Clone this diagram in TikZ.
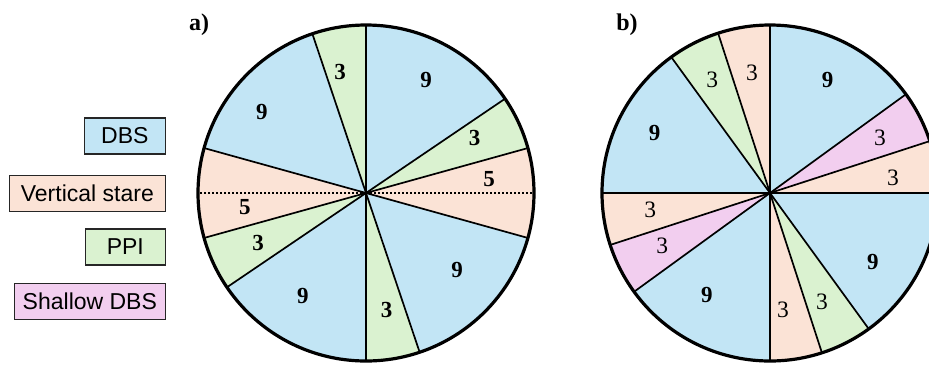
\documentclass[tikz,border=0pt]{standalone}
\usepackage{fontspec}
\setmainfont{Liberation Serif}
\newfontfamily\legendfont{Liberation Sans}
\definecolor{cblue}{HTML}{C2E5F5}
\definecolor{corange}{HTML}{FBE3D6}
\definecolor{cgreen}{HTML}{DAF2D0}
\definecolor{cpink}{HTML}{F2CEEF}
\tikzset{
  sectorline/.style={line width=1.7pt, black},
  rim/.style={line width=3.2pt, black},
  dotline/.style={line width=1.6pt, dash pattern=on 1.6pt off 2.4pt},
  numbold/.style={font=\fontsize{23}{23}\selectfont\bfseries, inner sep=0pt},
  numreg/.style={font=\fontsize{23.5}{23}\selectfont, inner sep=0pt},
  legendbox/.style={draw=black!85, line width=1.3pt, anchor=east, minimum height=36pt,
    font=\legendfont\fontsize{23}{24}\selectfont, inner sep=0pt},
  panel/.style={font=\fontsize{24}{24}\selectfont\bfseries, inner sep=0pt}
}
\begin{document}
\begin{tikzpicture}[x=1pt,y=1pt]
\useasboundingbox (0,0) rectangle (929,-365);
\clip (0,0) rectangle (929,-365);
\pgfmathsetmacro{\ua}{360/58}

% legend
\node[legendbox, fill=cblue, minimum width=81pt] (lg1) at (166,-136) {DBS};
\node[legendbox, fill=corange, minimum width=156pt] (lg2) at (166,-193.5) {Vertical stare};
\node[legendbox, fill=cgreen, minimum width=80pt] (lg3) at (166,-247) {PPI};
\node[legendbox, fill=cpink, minimum width=151pt] (lg4) at (166,-301.5) {Shallow DBS};

% panel labels
\node[panel] (pa) at (199,-25) {a)};
\node[panel] (pb) at (627,-25) {b)};

% pie a
\begin{scope}[shift={(366,-193)}]
  \coordinate (ca) at (0,0);
  \foreach \s/\e/\c in {0/9/cblue,9/12/cgreen,12/17/corange,17/26/cblue,26/29/cgreen,
                        29/38/cblue,38/41/cgreen,41/46/corange,46/55/cblue,55/58/cgreen}{
    \fill[\c] (ca) -- (90-\s*\ua:168) arc[start angle={90-\s*\ua}, end angle={90-\e*\ua}, radius=168] -- cycle;
  }
  \foreach \s in {0,9,12,17,26,29,38,41,46,55}{
    \draw[sectorline] (ca) -- (90-\s*\ua:168);
  }
  \coordinate (ar) at (0:168);
  \coordinate (al) at (180:168);
  \draw[dotline] (ca) -- (ar);
  \draw[dotline] (ca) -- (al);
  \draw[rim] (ca) circle[radius=168];
  \foreach \t/\r/\l [count=\i] in {28/128/9,63/122/3,83.5/124/5,130/119/9,170/119/3,
                                   211.5/121/9,245/119/3,263.5/122/5,308/132/9,348/124/3}{
    \node[numbold] (na\i) at (90-\t:\r) {\l};
  }
\end{scope}

% pie b
\begin{scope}[shift={(770,-193)}]
  \coordinate (cb) at (0,0);
  \foreach \s/\e/\c in {0/9/cblue,9/12/cpink,12/15/corange,15/24/cblue,24/27/cgreen,27/30/corange,
                        30/39/cblue,39/42/cpink,42/45/corange,45/54/cblue,54/57/cgreen,57/60/corange}{
    \fill[\c] (cb) -- (90-\s*6:168) arc[start angle={90-\s*6}, end angle={90-\e*6}, radius=168] -- cycle;
  }
  \foreach \s in {0,9,12,15,24,27,30,39,42,45,54,57}{
    \draw[sectorline] (cb) -- (90-\s*6:168);
  }
  \draw[rim] (cb) circle[radius=168];
  \foreach \t/\r/\l/\st [count=\i] in {27/127/9/numbold,63.4/123/3/numreg,83/124/3/numreg,
        124/124/9/numbold,154.5/121/3/numreg,173.7/118/3/numreg,211.7/120/9/numbold,
        244/120/3/numreg,262/121/3/numreg,297.5/130/9/numbold,333/127/3/numreg,351.5/122/3/numreg}{
    \node[\st] (nb\i) at (90-\t:\r) {\l};
  }
\end{scope}
\end{tikzpicture}
\end{document}
